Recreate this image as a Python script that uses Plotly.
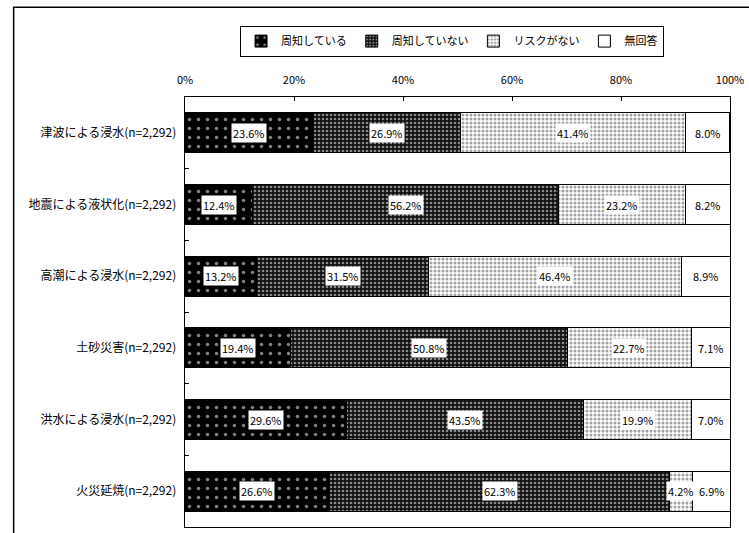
import plotly.graph_objects as go

categories = ["津波による浸水(n=2,292)", "地震による液状化(n=2,292)", "高潮による浸水(n=2,292)",
              "土砂災害(n=2,292)", "洪水による浸水(n=2,292)", "火災延焼(n=2,292)"]
series_names = ["周知している", "周知していない", "リスクがない", "無回答"]
known = [23.6, 12.4, 13.2, 19.4, 29.6, 26.6]
not_known = [26.9, 56.2, 31.5, 50.8, 43.5, 62.3]
no_risk = [41.4, 23.2, 46.4, 22.7, 19.9, 4.2]
no_answer = [8.0, 8.2, 8.9, 7.1, 7.0, 6.9]
tick_vals = [0, 20, 40, 60, 80, 100]
tick_text = ["0%", "20%", "40%", "60%", "80%", "100%"]

series_values = [known, not_known, no_risk, no_answer]
patterns = [
    dict(shape=".", bgcolor="#000000", fgcolor="#ffffff", size=9, solidity=0.12),
    dict(shape=".", bgcolor="#111111", fgcolor="#ffffff", size=4, solidity=0.35),
    dict(shape=".", bgcolor="#ffffff", fgcolor="#444444", size=4, solidity=0.45),
    dict(shape="", bgcolor="#ffffff", fgcolor="#ffffff"),
]

FONT = "Noto Sans CJK JP"
fig = go.Figure()
for name, vals, pat in zip(series_names, series_values, patterns):
    fig.add_trace(go.Bar(
        y=categories, x=vals, name=name, orientation="h",
        marker=dict(color="#ffffff", line=dict(color="#000000", width=1), pattern=pat),
        hoverinfo="skip",
    ))

# value labels in white boxes
annotations = []
for i, cat in enumerate(categories):
    cum = 0.0
    for vals in series_values:
        v = vals[i]
        annotations.append(dict(
            x=cum + v / 2, y=cat, xref="x", yref="y", text=f"{v:.1f}%",
            showarrow=False, bgcolor="#ffffff", borderpad=1,
            font=dict(family=FONT, size=11, color="#000000"),
        ))
        cum += v

fig.update_layout(
    barmode="stack",
    bargap=0.44,
    width=749, height=533,
    margin=dict(l=185, r=17, t=97, b=5),
    paper_bgcolor="#ffffff", plot_bgcolor="#ffffff",
    font=dict(family=FONT, size=12, color="#000000"),
    showlegend=True,
    legend=dict(orientation="h", x=0.49, xanchor="center", y=1.13, yanchor="middle",
                bordercolor="#000000", borderwidth=1, font=dict(family=FONT, size=11),
                itemwidth=30, traceorder="normal", bgcolor="#ffffff"),
    annotations=annotations,
    shapes=[dict(type="rect", xref="paper", yref="paper",
                 x0=-0.3144, x1=1.06, y0=-0.05, y1=1.209,
                 line=dict(color="#000000", width=1.5), layer="below")],
)
fig.update_xaxes(range=[0, 100], side="top", tickvals=tick_vals, ticktext=tick_text,
                 showgrid=False, zeroline=False, showline=True, mirror=True,
                 linecolor="#000000", linewidth=1, ticks="inside", ticklen=4,
                 tickcolor="#000000", ticklabelstandoff=8,
                 tickfont=dict(family=FONT, size=11))
fig.update_yaxes(autorange="reversed", showgrid=False, showline=True, mirror=True,
                 linecolor="#000000", linewidth=1, ticks="inside", tickson="boundaries",
                 ticklen=4, tickcolor="#000000", ticksuffix="  ",
                 tickfont=dict(family=FONT, size=12))

fig.write_html("out.html")
